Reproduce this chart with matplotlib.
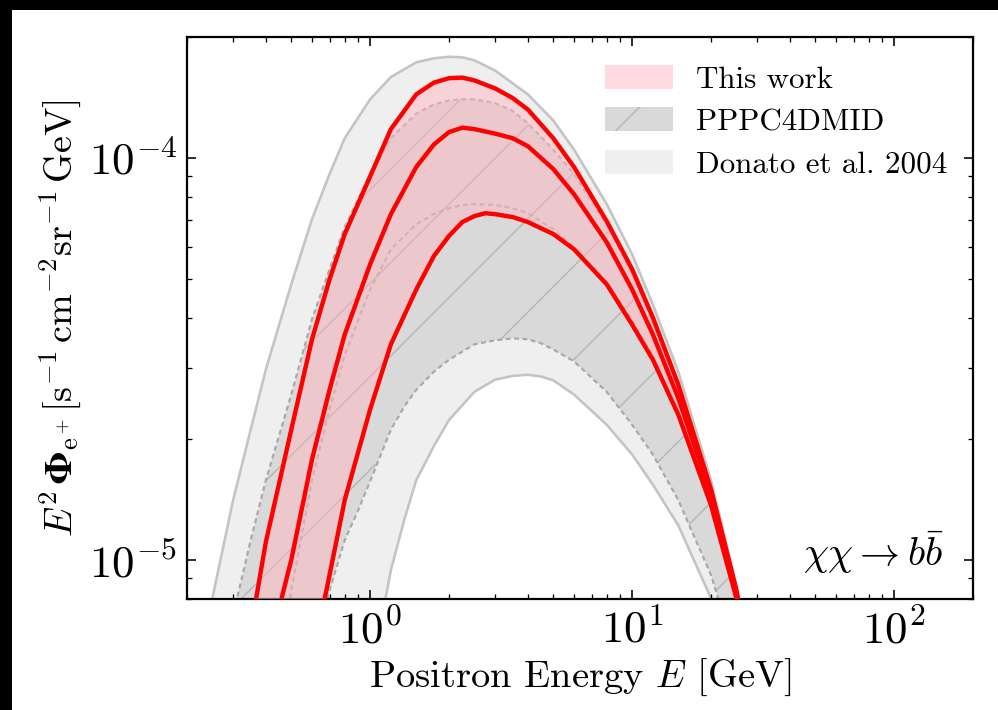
import matplotlib
matplotlib.use("Agg")
import matplotlib.pyplot as plt
import numpy as np
from matplotlib.patches import Patch, Rectangle

DPI = 280  # high dpi keeps the '/' hatch spacing wide


def px(v):
    # pixel size -> points at this dpi
    return v * 72.0 / DPI


plt.rcParams['font.family'] = 'serif'
plt.rcParams['font.serif'] = ['cmr10']
plt.rcParams['mathtext.fontset'] = 'cm'
plt.rcParams['axes.formatter.use_mathtext'] = True
plt.rcParams['axes.unicode_minus'] = False
plt.rcParams['hatch.linewidth'] = px(1.4)

# positron energy [GeV] and E^2 Phi [1e-5 s^-1 cm^-2 sr^-1 GeV]
E_this_max = [0.3, 0.35, 0.4, 0.5, 0.6, 0.7, 0.8, 1.0, 1.2, 1.5, 1.75, 2, 2.25, 2.5, 3, 3.5, 4, 5, 6, 8, 10, 12, 15, 20, 25, 30]
F_this_max = [0.40, 0.669, 1.11, 2.11, 3.54, 4.99, 6.47, 9.0, 11.8, 14.4, 15.4, 15.8, 15.85, 15.6, 14.9, 14.1, 13.2, 11.2, 9.50, 6.96, 5.29, 4.01, 2.73, 1.50, 0.842, 0.45]
E_this_med = [0.4, 0.5, 0.6, 0.7, 0.8, 1.0, 1.2, 1.5, 1.75, 2, 2.25, 2.5, 3, 3.5, 4, 5, 6, 8, 10, 12, 15, 20, 25, 30]
F_this_med = [0.563, 1.00, 1.78, 2.65, 3.64, 5.44, 7.25, 9.5, 10.8, 11.6, 11.9, 11.8, 11.5, 11.2, 10.7, 9.39, 8.13, 6.17, 4.71, 3.64, 2.53, 1.45, 0.832, 0.45]
E_this_min = [0.6, 0.7, 0.8, 1.0, 1.2, 1.5, 1.75, 2, 2.25, 2.5, 2.75, 3, 3.5, 4, 5, 6, 8, 10, 12, 15, 20, 25, 30]
F_this_min = [0.563, 0.918, 1.41, 2.37, 3.44, 4.71, 5.70, 6.40, 6.93, 7.17, 7.29, 7.25, 7.13, 6.93, 6.47, 5.93, 4.85, 3.85, 3.15, 2.30, 1.37, 0.804, 0.45]

E_pppc_max = [0.25, 0.3, 0.35, 0.4, 0.5, 0.6, 0.7, 0.8, 1.0, 1.2, 1.5, 1.75, 2, 2.25, 2.5, 3, 3.5, 4, 5, 6, 8, 10, 12, 15, 20, 25, 30]
F_pppc_max = [0.40, 0.729, 1.12, 1.58, 2.58, 3.97, 5.29, 6.73, 9.12, 11.2, 12.9, 13.6, 13.9, 14.0, 14.0, 13.7, 13.1, 12.2, 10.5, 9.12, 6.84, 5.14, 3.92, 2.68, 1.48, 0.795, 0.45]
E_pppc_med = [0.45, 0.5, 0.6, 0.7, 0.8, 1.0, 1.2, 1.5, 1.75, 2, 2.25, 2.5, 3, 3.5, 4, 5, 6, 8, 10, 12, 15, 20, 25, 30]
F_pppc_med = [0.50, 0.842, 1.58, 2.37, 3.24, 4.71, 5.93, 6.84, 7.25, 7.50, 7.64, 7.68, 7.64, 7.50, 7.29, 6.65, 6.00, 4.91, 3.97, 3.21, 2.34, 1.41, 0.795, 0.45]
E_pppc_min = [0.6, 0.7, 0.8, 0.9, 1.0, 1.2, 1.35, 1.5, 1.75, 2, 2.5, 3, 3.5, 4, 4.5, 5, 6, 8, 10, 12, 15, 20, 22, 30]
F_pppc_min = [0.50, 0.842, 1.12, 1.33, 1.57, 2.11, 2.41, 2.65, 2.94, 3.15, 3.44, 3.52, 3.56, 3.54, 3.46, 3.34, 3.12, 2.62, 2.17, 1.83, 1.41, 0.918, 0.750, 0.40]

E_donato_max = [0.2, 0.25, 0.3, 0.35, 0.4, 0.5, 0.6, 0.7, 0.8, 1.0, 1.2, 1.5, 1.75, 2, 2.25, 2.5, 3, 4, 5, 6, 8, 10, 12, 15, 20, 25, 30]
F_donato_max = [0.399, 0.804, 1.41, 2.11, 2.98, 4.85, 7.05, 9.12, 11.2, 14.0, 15.9, 17.3, 17.7, 17.86, 17.8, 17.5, 16.5, 14.4, 12.4, 10.5, 7.68, 5.76, 4.32, 2.94, 1.58, 0.866, 0.45]
E_donato_min = [1.0, 1.2, 1.35, 1.5, 1.75, 2, 2.5, 3, 3.5, 4, 4.5, 5, 6, 8, 10, 12, 15, 20, 25]
F_donato_min = [0.502, 0.944, 1.26, 1.58, 1.92, 2.23, 2.62, 2.81, 2.87, 2.89, 2.86, 2.80, 2.58, 2.17, 1.83, 1.54, 1.22, 0.804, 0.45]

labels = ['This work', 'PPPC4DMID', 'Donato et al. 2004']
pink = '#ffb6c1'
red = '#ff0000'
band_light = '#efefef'
band_dark = '#d9d9d9'
edge_light = '#c4c4c4'
edge_dark = '#a9a9a9'


def band(ax, E_up, F_up, E_lo, F_lo, **kw):
    # closed polygon: upper curve left->right, lower curve back
    xs = np.concatenate([E_up, E_lo[::-1]])
    ys = np.concatenate([F_up, F_lo[::-1]]) * 1e-5
    return ax.fill(xs, ys, **kw)


fig = plt.figure(figsize=(998 / DPI, 710 / DPI), dpi=DPI)
fig.patch.set_facecolor('white')
ax = fig.add_axes([187 / 998, 1 - 599 / 710, (973 - 187) / 998, (599 - 37) / 710])

# Donato et al. band
band(ax, E_donato_max, F_donato_max, E_donato_min, F_donato_min,
     facecolor=band_light, edgecolor='none', zorder=1)
for E, F in [(E_donato_max, F_donato_max), (E_donato_min, F_donato_min)]:
    ax.plot(E, np.array(F) * 1e-5, color=edge_light, lw=px(2.6), zorder=1.2)

# PPPC4DMID band, hatched
band(ax, E_pppc_max, F_pppc_max, E_pppc_min, F_pppc_min,
     facecolor=band_dark, edgecolor='#b4b4b4', hatch='/', lw=0, zorder=2)
for E, F in [(E_pppc_max, F_pppc_max), (E_pppc_med, F_pppc_med), (E_pppc_min, F_pppc_min)]:
    ax.plot(E, np.array(F) * 1e-5, color=edge_dark, lw=px(2.2),
            linestyle=(0, (2.2, 1.6)), zorder=2.2)

# this work
band(ax, E_this_max, F_this_max, E_this_min, F_this_min,
     facecolor=pink, edgecolor='none', alpha=0.5, zorder=3)
for E, F in [(E_this_max, F_this_max), (E_this_med, F_this_med), (E_this_min, F_this_min)]:
    ax.plot(E, np.array(F) * 1e-5, color=red, lw=px(4.4), zorder=4,
            solid_capstyle='butt', solid_joinstyle='round')

ax.set_xscale('log')
ax.set_yscale('log')
ax.set_xlim(0.2, 200)
ax.set_ylim(8e-6, 2e-4)

ax.tick_params(which='both', direction='in', top=True, right=True)
ax.tick_params(which='major', length=px(9), width=px(1.6), labelsize=px(45), pad=px(10))
ax.tick_params(which='minor', length=px(5), width=px(1.3))
for sp in ax.spines.values():
    sp.set_linewidth(px(2.2))

ax.set_xlabel(r'Positron Energy $E$ [GeV]', fontsize=px(38.5), labelpad=px(4))
ax.set_ylabel(r'$E^2\,\mathbf{Φ}_{\rm e^+}[{\rm s^{-1}\,cm^{-2}sr^{-1}\,GeV}]$',
              fontsize=px(38), labelpad=px(6))

ax.text(0.963, 0.041, r'$\chi\chi \rightarrow b\bar{b}$', transform=ax.transAxes,
        ha='right', va='bottom', fontsize=px(40))

handles = [Patch(facecolor=pink, alpha=0.5, edgecolor='none'),
           Patch(facecolor=band_dark, edgecolor='#b4b4b4', hatch='/', lw=0),
           Patch(facecolor=band_light, edgecolor='none')]
ax.legend(handles, labels, loc='upper right', bbox_to_anchor=(1.003, 1.0), frameon=False,
          fontsize=px(31), handlelength=2.2, handleheight=0.8, handletextpad=0.75,
          labelspacing=0.45)

# black strips along the top and left edges
fig.patches.append(Rectangle((0, 1 - 10 / 710), 1, 10 / 710, transform=fig.transFigure,
                             facecolor='black', edgecolor='none', zorder=10))
fig.patches.append(Rectangle((0, 0), 12 / 998, 1, transform=fig.transFigure,
                             facecolor='black', edgecolor='none', zorder=10))

fig.savefig('out.png', dpi=DPI, facecolor='white')
